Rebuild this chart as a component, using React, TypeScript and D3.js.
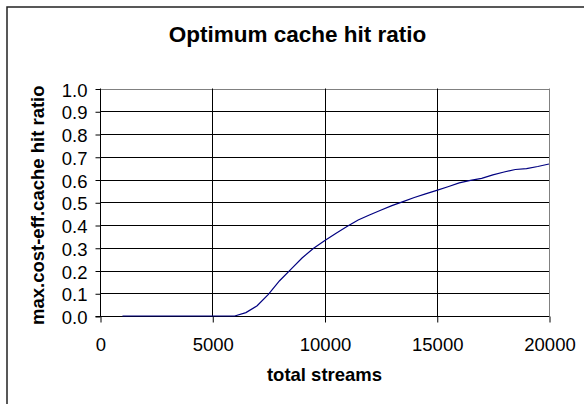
import React, { useRef, useEffect } from "react";
import * as d3 from "d3";

// total streams (x) and max cost-effective cache hit ratio (y)
const streams = [
  1000, 1500, 2000, 2500, 3000, 3500, 4000, 4500, 5000, 5500, 6000, 6500, 7000, 7500, 8000, 8500, 9000, 9500,
  10000, 10500, 11000, 11500, 12000, 12500, 13000, 13500, 14000, 14500, 15000, 15500, 16000, 16500, 17000,
  17500, 18000, 18500, 19000, 19500, 20000,
];
const hitRatio = [
  0, 0, 0, 0, 0, 0, 0, 0, 0, 0, 0, 0.015, 0.045, 0.095, 0.155, 0.205, 0.255, 0.297, 0.331, 0.363, 0.393, 0.422,
  0.444, 0.465, 0.485, 0.503, 0.521, 0.537, 0.552, 0.568, 0.585, 0.596, 0.605, 0.62, 0.633, 0.644, 0.648, 0.657,
  0.668,
];
const xTicks = [0, 5000, 10000, 15000, 20000];
const yTicks = [0, 0.1, 0.2, 0.3, 0.4, 0.5, 0.6, 0.7, 0.8, 0.9, 1.0];

const W = 584;
const H = 404;
const FONT = "Arial, 'Liberation Sans', sans-serif";

const Chart = () => {
  const svgRef = useRef(null);

  useEffect(() => {
    const svg = d3.select(svgRef.current);
    svg.selectAll("*").remove();

    const left = 100;
    const right = 549;
    const top = 88.5;
    const bottom = 316;

    const x = d3.scaleLinear().domain([0, 20000]).range([left, right]);
    const y = d3.scaleLinear().domain([0, 1]).range([bottom, top]);

    // outer chart border
    svg
      .append("rect")
      .attr("x", 7)
      .attr("y", 7)
      .attr("width", 700)
      .attr("height", 600)
      .attr("fill", "#fff")
      .attr("stroke", "#222")
      .attr("stroke-width", 1.5);

    // title
    svg
      .append("text")
      .attr("x", 297.5)
      .attr("y", 42)
      .attr("text-anchor", "middle")
      .style("font-family", FONT)
      .style("font-size", "22.5px")
      .style("font-weight", "bold")
      .text("Optimum cache hit ratio");

    // horizontal gridlines
    svg
      .append("g")
      .selectAll("line")
      .data(yTicks.slice(1))
      .join("line")
      .attr("x1", left)
      .attr("x2", right)
      .attr("y1", (d) => Math.round(y(d)) + 0.5)
      .attr("y2", (d) => Math.round(y(d)) + 0.5)
      .attr("stroke", (d) => (d === 1 ? "#808080" : "#000"))
      .attr("stroke-width", 1);

    // vertical gridlines
    svg
      .append("g")
      .selectAll("line")
      .data(xTicks.slice(1))
      .join("line")
      .attr("x1", (d) => Math.round(x(d)) + 0.5)
      .attr("x2", (d) => Math.round(x(d)) + 0.5)
      .attr("y1", top)
      .attr("y2", bottom)
      .attr("stroke", (d) => (d === 20000 ? "#808080" : "#000"))
      .attr("stroke-width", 1);

    // y axis
    const yAxis = svg
      .append("g")
      .attr("transform", `translate(${left + 0.5},0.5)`)
      .call(d3.axisLeft(y).tickValues(yTicks).tickSize(5).tickPadding(8).tickFormat(d3.format(".1f")));
    yAxis.select(".domain").attr("d", `M0,${top - 0.5}V${bottom}`).attr("stroke", "#000");
    yAxis.selectAll(".tick line").attr("stroke", "#000");
    yAxis
      .selectAll(".tick text")
      .attr("dy", "0.38em")
      .style("font-family", FONT)
      .style("font-size", "18.5px")
      .attr("fill", "#000");

    // x axis
    const xAxis = svg
      .append("g")
      .attr("transform", `translate(0.5,${bottom + 0.5})`)
      .call(d3.axisBottom(x).tickValues(xTicks).tickSize(6).tickPadding(15).tickFormat(d3.format("d")));
    xAxis.select(".domain").attr("d", `M${left - 5},0H${right}`).attr("stroke", "#000");
    xAxis.selectAll(".tick line").attr("stroke", "#000");
    xAxis
      .selectAll(".tick text")
      .style("font-family", FONT)
      .style("font-size", "18.5px")
      .attr("fill", "#000");

    // curve
    const line = d3
      .line()
      .x((d) => x(d[0]))
      .y((d) => y(d[1]));

    svg
      .append("path")
      .datum(streams.map((s, i) => [s, hitRatio[i]]))
      .attr("fill", "none")
      .attr("stroke", "#000080")
      .attr("stroke-width", 1.2)
      .attr("d", line);

    // x axis label
    svg
      .append("text")
      .attr("x", (left + right) / 2)
      .attr("y", 381)
      .attr("text-anchor", "middle")
      .style("font-family", FONT)
      .style("font-size", "18.5px")
      .style("font-weight", "bold")
      .text("total streams");

    // y axis label
    svg
      .append("text")
      .attr("transform", `translate(43.5,${(top + bottom) / 2 + 3}) rotate(-90)`)
      .attr("text-anchor", "middle")
      .style("font-family", FONT)
      .style("font-size", "18.5px")
      .style("font-weight", "bold")
      .text("max.cost-eff.cache hit ratio");
  }, []);

  return <svg ref={svgRef} width={W} height={H} style={{ position: "absolute", left: 0, top: 0 }} />;
};

export default function App() {
  return <Chart />;
}
